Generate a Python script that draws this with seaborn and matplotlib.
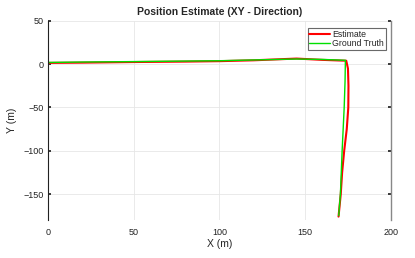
import numpy as np
import pandas as pd
import matplotlib
matplotlib.use("Agg")
import matplotlib.pyplot as plt
import seaborn as sns

# Estimated path
est_x = [0, 20, 50, 80, 100, 120, 145, 160, 174, 175, 175.3, 175.2, 174.3, 172.8, 171.6, 170.8, 169.5]
est_y = [1.5, 1.8, 2.5, 3, 3.5, 4.5, 6.5, 5, 4, -5, -25, -50, -75, -100, -125, -150, -176]
# Ground truth path
gt_x = [0, 20, 50, 100, 145, 160, 173.5, 173.3, 172.8, 171.6, 170.6, 169.6]
gt_y = [2, 2.5, 3, 4, 6, 5.5, 4.5, -20, -50, -100, -150, -175]

xticks = [0, 50, 100, 150, 200]
yticks = [50, 0, -50, -100, -150]

sns.set_theme(style="white")
plt.rcParams['font.family'] = ['Liberation Sans', 'DejaVu Sans']

fig = plt.figure(figsize=(4.15, 2.58), dpi=100)
ax = fig.add_axes([0.1157, 0.147, 0.826, 0.772])

est = pd.DataFrame({"x": est_x, "y": est_y})
gt = pd.DataFrame({"x": gt_x, "y": gt_y})
sns.lineplot(data=est, x="x", y="y", sort=False, estimator=None, color="#ff0000",
             linewidth=1.5, ax=ax, label="Estimate")
sns.lineplot(data=gt, x="x", y="y", sort=False, estimator=None, color="#00e000",
             linewidth=1.0, ax=ax, label="Ground Truth")

ax.set_xlim(0, 200)
ax.set_ylim(-180, 50)
ax.set_xticks(xticks)
ax.set_yticks(yticks)
ax.grid(True, color="#e6e6e6", linewidth=0.6)
ax.tick_params(axis="both", labelsize=6.5, colors="#222222", length=2, direction="in")
ax.tick_params(axis="x", pad=6)
ax.tick_params(axis="y", pad=3, right=True, left=True)
ax.spines["top"].set_visible(False)
ax.spines["bottom"].set_visible(False)
ax.spines["left"].set_color("#222222")
ax.spines["left"].set_linewidth(0.8)
ax.spines["right"].set_color("#888888")
ax.spines["right"].set_linewidth(1.0)
ax.set_xlabel("X (m)", fontsize=7.5, labelpad=1)
ax.set_ylabel("Y (m)", fontsize=7.5, labelpad=5)
ax.set_title("Position Estimate (XY - Direction)", fontsize=7.5, fontweight="bold", pad=4)

leg = ax.legend(loc="upper right", fontsize=6.3, frameon=True, fancybox=False,
                borderpad=0.2, handlelength=2.3, handletextpad=0.3, labelspacing=0.1,
                bbox_to_anchor=(0.985, 0.965), borderaxespad=0)
leg.get_frame().set_edgecolor("#444444")
leg.get_frame().set_linewidth(0.8)

fig.savefig("out.png", dpi=100)
